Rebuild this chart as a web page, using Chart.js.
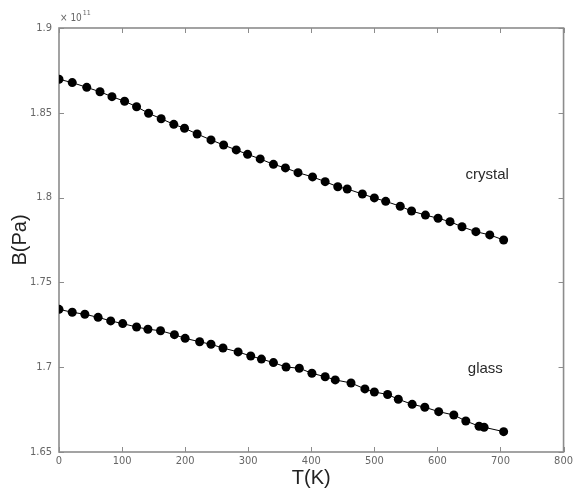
<!DOCTYPE html>
<html>
<head>
<meta charset="utf-8">
<title>B(T)</title>
<script src="https://cdn.jsdelivr.net/npm/chart.js@4"></script>
<style>
  html, body { margin: 0; padding: 0; background: #fff; }
  #wrap { width: 576px; height: 495px; }
</style>
</head>
<body>
<div id="wrap"><canvas id="bulkChart" width="576" height="495"></canvas></div>
<script>
// Bulk modulus vs temperature, values in units of 1e11 Pa
const crystalT = [0, 21, 44, 65, 84, 104, 123, 142, 162, 182, 199, 219, 241, 261, 281, 299, 319, 340,
                  359, 379, 402, 422, 442, 457, 481, 500, 518, 541, 559, 581, 601, 620, 639, 661, 683, 705];
const crystalB = [1.8698, 1.8678, 1.8650, 1.8624, 1.8595, 1.8568, 1.8536, 1.8497, 1.8465, 1.8432, 1.8409, 1.8375,
                  1.8340, 1.8310, 1.8281, 1.8255, 1.8228, 1.8196, 1.8175, 1.8147, 1.8122, 1.8094, 1.8064, 1.8051,
                  1.8021, 1.7998, 1.7978, 1.7949, 1.7921, 1.7897, 1.7878, 1.7858, 1.7828, 1.7799, 1.7780, 1.7750];

const glassT = [0, 21, 41, 62, 82, 101, 123, 141, 161, 183, 200, 223, 241, 260, 284, 304, 321, 340,
                360, 381, 401, 422, 438, 463, 485, 500, 521, 538, 560, 580, 602, 626, 645, 666, 674, 705];
const glassB = [1.7341, 1.7324, 1.7312, 1.7294, 1.7273, 1.7257, 1.7237, 1.7224, 1.7215, 1.7192, 1.7170, 1.7150,
                1.7135, 1.7113, 1.7090, 1.7066, 1.7048, 1.7027, 1.7001, 1.6994, 1.6964, 1.6944, 1.6925, 1.6907,
                1.6872, 1.6854, 1.6839, 1.6811, 1.6781, 1.6764, 1.6738, 1.6718, 1.6683, 1.6652, 1.6646, 1.6620];

const seriesNames = ['crystal', 'glass'];
const xTickLabels = ['0', '100', '200', '300', '400', '500', '600', '700', '800'];
const yTickLabels = ['1.65', '1.7', '1.75', '1.8', '1.85', '1.9'];

// where the two series names sit, in data units
const nameT = [679, 676];
const nameB = [1.8133, 1.6989];

const toPoints = (xs, ys) => xs.map((x, i) => ({ x: x, y: ys[i] }));

const narrow = "'Liberation Sans Narrow', 'DejaVu Sans Condensed', Arial, sans-serif";
const sans = "'Liberation Sans', Arial, sans-serif";

// matlab-ish box with inward ticks, plus the exponent and series names
const boxPlugin = {
  id: 'box',
  beforeDatasetsDraw(chart) {
    const { ctx, chartArea: a, scales: { x, y } } = chart;
    ctx.save();
    ctx.strokeStyle = '#8c8c8c';
    ctx.lineWidth = 1.6;
    ctx.strokeRect(a.left, a.top, a.right - a.left, a.bottom - a.top);
    ctx.lineWidth = 1;
    const tl = 5;
    ctx.beginPath();
    x.ticks.forEach(t => {
      const px = Math.round(x.getPixelForValue(t.value)) + 0.5;
      ctx.moveTo(px, a.bottom); ctx.lineTo(px, a.bottom - tl);
      ctx.moveTo(px, a.top); ctx.lineTo(px, a.top + tl);
    });
    y.ticks.forEach(t => {
      const py = Math.round(y.getPixelForValue(t.value)) + 0.5;
      ctx.moveTo(a.left, py); ctx.lineTo(a.left + tl, py);
      ctx.moveTo(a.right, py); ctx.lineTo(a.right - tl, py);
    });
    ctx.stroke();
    ctx.restore();
  },
  afterDatasetsDraw(chart) {
    const { ctx, chartArea: a, scales: { x, y } } = chart;
    ctx.save();
    ctx.fillStyle = '#666';
    ctx.textBaseline = 'alphabetic';
    ctx.textAlign = 'left';
    ctx.font = '10px ' + narrow;
    ctx.fillText('\u00d7 10', a.left + 1, a.top - 7);
    const w = ctx.measureText('\u00d7 10').width;
    ctx.font = '7px ' + narrow;
    ctx.fillText('11', a.left + 2 + w, a.top - 13);

    ctx.fillStyle = '#2a2a2a';
    ctx.font = '15px ' + sans;
    ctx.textAlign = 'center';
    ctx.textBaseline = 'middle';
    seriesNames.forEach((name, i) => {
      ctx.fillText(name, x.getPixelForValue(nameT[i]), y.getPixelForValue(nameB[i]));
    });
    ctx.restore();
  }
};

const lineStyle = {
  showLine: true,
  borderColor: '#000',
  borderWidth: 1,
  backgroundColor: '#000',
  pointRadius: 4.5,
  pointHoverRadius: 4.5,
  pointBackgroundColor: '#000',
  pointBorderColor: '#000',
  pointBorderWidth: 0,
  tension: 0
};

new Chart(document.getElementById('bulkChart'), {
  type: 'scatter',
  data: {
    datasets: [
      Object.assign({ label: seriesNames[0], data: toPoints(crystalT, crystalB) }, lineStyle),
      Object.assign({ label: seriesNames[1], data: toPoints(glassT, glassB) }, lineStyle)
    ]
  },
  options: {
    responsive: false,
    devicePixelRatio: 1,
    animation: false,
    layout: { padding: { left: 0, top: 28, right: 10, bottom: 0 } },
    plugins: {
      legend: { display: false },
      tooltip: { enabled: false }
    },
    scales: {
      x: {
        type: 'linear',
        min: 0,
        max: 800,
        grid: { display: false, drawTicks: false },
        border: { display: false },
        ticks: {
          stepSize: 100,
          padding: 3,
          color: '#666',
          font: { size: 11, family: narrow },
          maxRotation: 0,
          callback: (v, i) => xTickLabels[i]
        },
        title: {
          display: true,
          text: 'T(K)',
          color: '#222',
          font: { size: 20, family: sans },
          padding: { top: 0, bottom: 5 }
        },
        afterFit: s => { s.height = 43; }
      },
      y: {
        type: 'linear',
        min: 1.65,
        max: 1.9,
        grid: { display: false, drawTicks: false },
        border: { display: false },
        ticks: {
          stepSize: 0.05,
          padding: 7,
          color: '#666',
          font: { size: 11, family: narrow },
          callback: (v, i) => yTickLabels[i]
        },
        title: {
          display: true,
          text: 'B(Pa)',
          color: '#222',
          font: { size: 20, family: sans },
          padding: { top: 8, bottom: 0 }
        },
        afterFit: s => { s.width = 59; }
      }
    }
  },
  plugins: [boxPlugin]
});
</script>
</body>
</html>
